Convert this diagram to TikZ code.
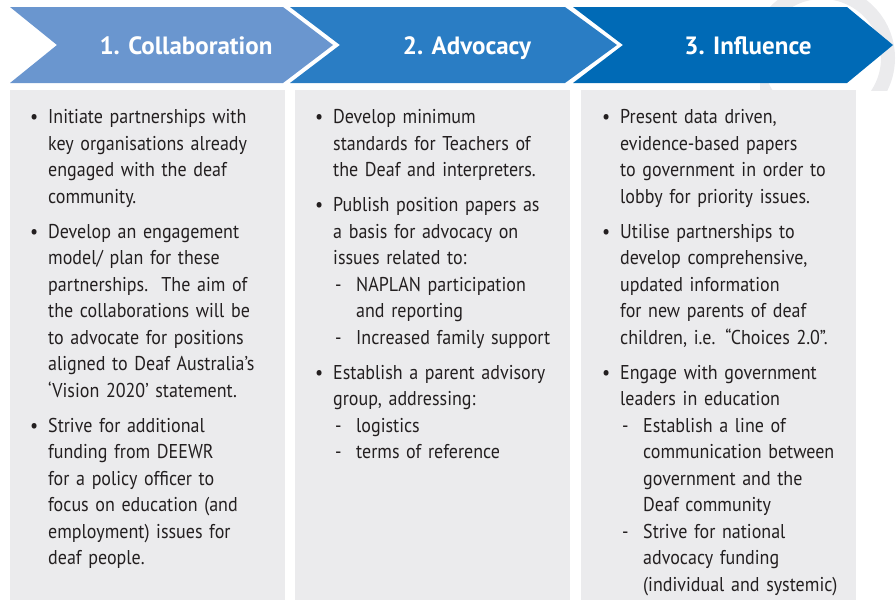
\documentclass[tikz,border=0pt]{standalone}
\usepackage{fontspec}
\setmainfont{PT Sans}[FakeStretch=0.9]
\newfontfamily\headfont{PT Sans}
\usepackage{enumitem}
\usetikzlibrary{positioning}
\definecolor{chevA}{HTML}{6A96CF}
\definecolor{chevB}{HTML}{2A7DC4}
\definecolor{chevC}{HTML}{006AB6}
\definecolor{panel}{HTML}{EBEBED}
\definecolor{ink}{HTML}{231F20}

\newlist{bulletlist}{itemize}{2}
\setlist[bulletlist,1]{label=\textbullet, leftmargin=18pt, labelwidth=18pt,
  labelsep=0pt, align=left, topsep=0pt, partopsep=0pt, parsep=0pt, itemsep=8.5pt}
\setlist[bulletlist,2]{label=-, leftmargin=23pt, labelwidth=21pt,
  labelsep=0pt, align=left, topsep=0pt, partopsep=0pt, parsep=0pt, itemsep=0pt}

\begin{document}
\begin{tikzpicture}[
            x = 1pt, y = -1pt, % pixel-like units, y downwards
            panelbox/.style = {fill = panel, inner sep = 0pt, anchor = north west},
            headtxt/.style = {text = white, font = \headfont\fontsize{25}{28}\selectfont\bfseries, anchor = base},
            listbox/.style = {text = ink, text width = 250pt, inner sep = 0pt, align = left,
                              font = \fontsize{20}{26.5}\selectfont, anchor = north west}
        ]
        \useasboundingbox (0,0) rectangle (896,600);

        % faint ring behind the last arrow
        \begin{scope}
            \clip (760,0) rectangle (896,90);
            \draw[panel, line width = 14pt] (822,58) circle (66);
        \end{scope}

        % arrows
        \fill[chevA] (10,7) -- (283,7) -- (333,45) -- (283,83) -- (10,83) -- (57,45) -- cycle;
        \fill[chevB] (290,7) -- (565,7) -- (617,45) -- (565,83) -- (290,83) -- (340,45) -- cycle;
        \fill[chevC] (573,7) -- (847,7) -- (893,45) -- (847,83) -- (573,83) -- (623,45) -- cycle;

        \node[headtxt] (hd1) at (186,54) {1. Collaboration};
        \node[headtxt] (hd2) at (467,54) {2. Advocacy};
        \node[headtxt] (hd3) at (748,54) {3. Influence};

        % panels
        \node[panelbox, minimum width = 275pt, minimum height = 510pt] (pan1) at (10,90) {};
        \node[panelbox, minimum width = 275pt, minimum height = 510pt] (pan2) at (295,90) {};
        \node[panelbox, minimum width = 275pt, minimum height = 510pt] (pan3) at (581,90) {};

        % lists
        \node[listbox, below right = 7pt and 20pt of pan1.north west] (lst1) {%
            \begin{bulletlist}
            \item Initiate partnerships with\\ key organisations already\\ engaged with the deaf\\ community.
            \item Develop an engagement\\ model/ plan for these\\ partnerships.\ \ The aim of\\ the collaborations will be\\ to advocate for positions\\ aligned to Deaf Australia’s\\ ‘Vision 2020’ statement.
            \item Strive for additional\\ funding from DEEWR\\ for a policy officer to\\ focus on education (and\\ employment) issues for\\ deaf people.
            \end{bulletlist}};

        \node[listbox, below right = 7pt and 20pt of pan2.north west] (lst2) {%
            \begin{bulletlist}
            \item Develop minimum\\ standards for Teachers of\\ the Deaf and interpreters.
            \item Publish position papers as\\ a basis for advocacy on\\ issues related to:
                \begin{bulletlist}
                \item NAPLAN participation\\ and reporting
                \item Increased family support
                \end{bulletlist}
            \item Establish a parent advisory\\ group, addressing:
                \begin{bulletlist}
                \item logistics
                \item terms of reference
                \end{bulletlist}
            \end{bulletlist}};

        \node[listbox, below right = 7pt and 21pt of pan3.north west] (lst3) {%
            \begin{bulletlist}
            \item Present data driven,\\ evidence-based papers\\ to government in order to\\ lobby for priority issues.
            \item Utilise partnerships to\\ develop comprehensive,\\ updated information\\ for new parents of deaf\\ children, i.e. “Choices 2.0”.
            \item Engage with government\\ leaders in education
                \begin{bulletlist}
                \item Establish a line of\\ communication between\\ government and the\\ Deaf community
                \item Strive for national\\ advocacy funding\\ (individual and systemic)
                \end{bulletlist}
            \end{bulletlist}};
\end{tikzpicture}
\end{document}
